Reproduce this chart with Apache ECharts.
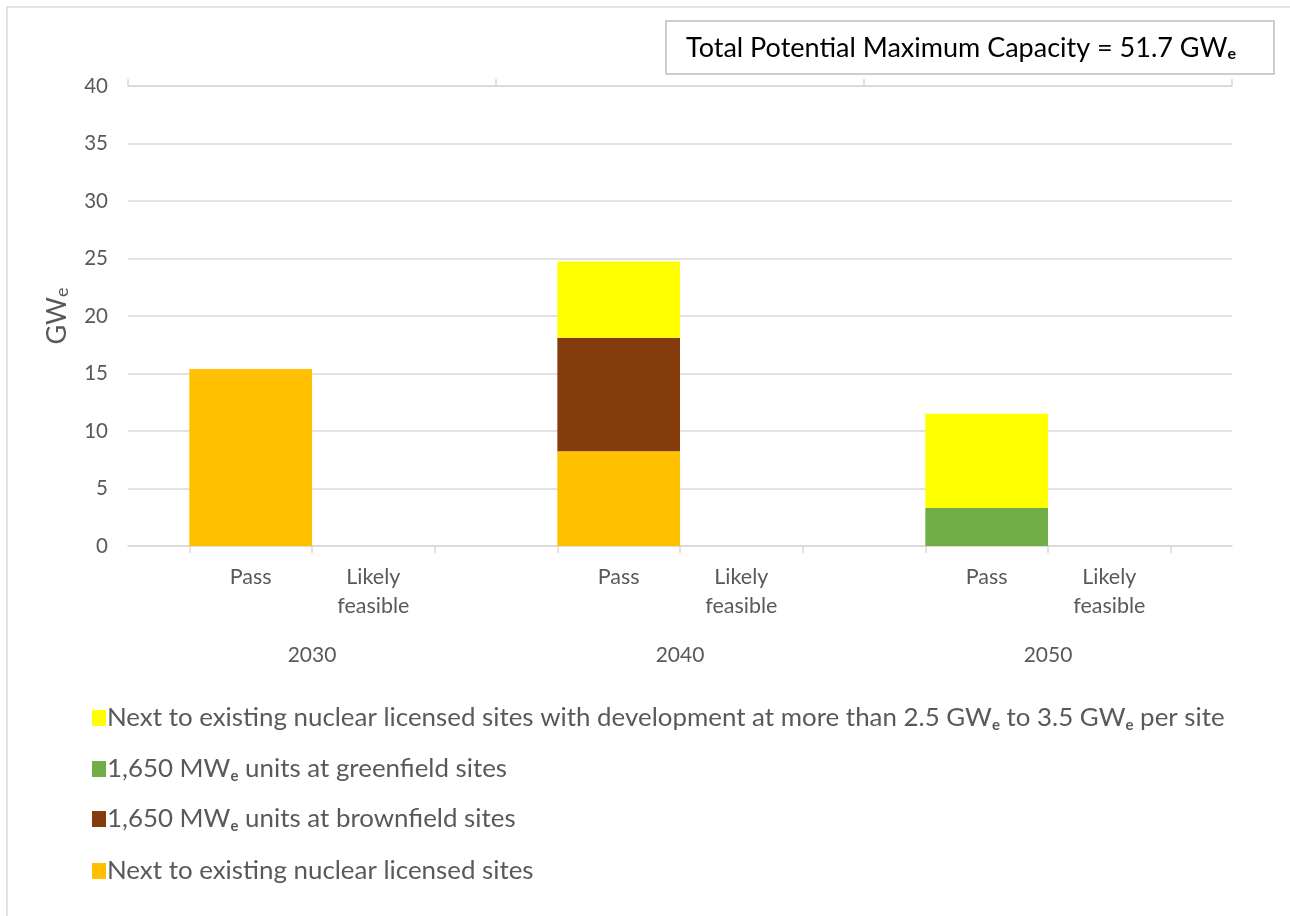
<!DOCTYPE html>
<html>
<head>
<meta charset="utf-8">
<script src="https://cdn.jsdelivr.net/npm/echarts@6/dist/echarts.min.js"></script>
<style>
html,body{margin:0;padding:0;background:#fff;}
#chart{width:1290px;height:916px;}
</style>
</head>
<body>
<div id="chart"></div>
<script>
// ---- data ----
var subCategories = ['', 'Pass', 'Likely\nfeasible', '', 'Pass', 'Likely\nfeasible', '', 'Pass', 'Likely\nfeasible', ''];
var yearSlots = ['', '2030', '', '', '2040', '', '', '2050', ''];
var nameOrange = 'Next to existing nuclear licensed sites';
var nameBrown = '1,650 MWe units at brownfield sites';
var nameGreen = '1,650 MWe units at greenfield sites';
var nameYellow = 'Next to existing nuclear licensed sites with development at more than 2.5 GWe to 3.5 GWe per site';
var orangeValues = [null, 15.4, null, null, 8.25, null, null, null, null, null];
var brownValues  = [null, null, null, null, 9.85, null, null, null, null, null];
var greenValues  = [null, null, null, null, null, null, null, 3.3, null, null];
var yellowValues = [null, null, null, null, 6.65, null, null, 8.2, null, null];
var yTicks = { min: 0, max: 40, interval: 5 };
var totalText = 'Total Potential Maximum Capacity = 51.7 GW{sub|e}';

var FONT = 'Lato';
var GRAY = '#595959';
var LINE = '#d9d9d9';

function subFmt(s) { return s.replace(/GWe/g, 'GW{sub|e}').replace(/MWe/g, 'MW{sub|e}'); }

var legendOrder = [nameYellow, nameGreen, nameBrown, nameOrange];
var legendTops = [717, 768, 818, 870];
var legends = legendOrder.map(function (n, i) {
  return {
    data: [n],
    left: 87,
    top: legendTops[i] - 19,
    orient: 'vertical',
    itemWidth: 14,
    itemHeight: 16,
    itemGap: 6,
    selectedMode: false,
    icon: 'rect',
    formatter: function (name) { return subFmt(name); },
    textStyle: {
      fontFamily: FONT, fontSize: 25.9, lineHeight: 30, color: GRAY, padding: [0, 0, 0, -4],
      rich: { sub: { fontFamily: FONT, fontSize: 15, lineHeight: 30, fontWeight: 'bold', color: GRAY, verticalAlign: 'bottom', padding: [6, 0, 0, 0] } }
    }
  };
});

function barSeries(name, data, color) {
  return {
    name: name, type: 'bar', stack: 'total', data: data, barWidth: '100%',
    xAxisIndex: 0, yAxisIndex: 0,
    itemStyle: { color: color },
    emphasis: { disabled: true }
  };
}

var option = {
  animation: false,
  backgroundColor: '#fff',
  textStyle: { fontFamily: FONT },
  grid: { left: 128, right: 58, top: 86, bottom: 370, containLabel: false },
  legend: legends,
  xAxis: [
    {
      type: 'category', data: subCategories, boundaryGap: false, position: 'bottom',
      axisLine: { show: true, lineStyle: { color: LINE, width: 1.5 } },
      axisTick: { show: false },
      axisLabel: { interval: 0, margin: 17, fontFamily: FONT, fontSize: 21.5, lineHeight: 29, color: GRAY },
      splitLine: { show: false }
    },
    {
      type: 'category', data: yearSlots, boundaryGap: true, position: 'bottom',
      axisLine: { show: false },
      axisTick: { show: true, alignWithLabel: true, interval: 0, length: 7, lineStyle: { color: LINE, width: 1.5 } },
      axisLabel: { interval: 0, margin: 95, fontFamily: FONT, fontSize: 21, lineHeight: 29, color: GRAY },
      splitLine: { show: false }
    },
    {
      type: 'category', data: yearSlots, boundaryGap: true, position: 'top',
      axisLine: { show: true, lineStyle: { color: LINE, width: 1.5 } },
      axisTick: { show: true, interval: 2, length: 7, lineStyle: { color: LINE, width: 1.5 } },
      axisLabel: { show: false },
      splitLine: { show: false }
    }
  ],
  yAxis: {
    type: 'value', min: yTicks.min, max: yTicks.max, interval: yTicks.interval,
    axisLine: { show: false }, axisTick: { show: false },
    splitLine: { lineStyle: { color: LINE, width: 1.5 } },
    axisLabel: { margin: 20, fontFamily: FONT, fontSize: 20.5, color: GRAY },
    name: 'GW{sub|e}', nameLocation: 'middle', nameGap: 57, nameRotate: 90,
    nameTextStyle: {
      fontFamily: FONT, fontSize: 27, color: GRAY,
      rich: { sub: { fontFamily: FONT, fontSize: 18, color: GRAY, verticalAlign: 'bottom', padding: [10, 0, 0, 0] } }
    }
  },
  series: [
    barSeries(nameOrange, orangeValues, '#FFC000'),
    barSeries(nameGreen, greenValues, '#70AD47'),
    barSeries(nameBrown, brownValues, '#843C0C'),
    barSeries(nameYellow, yellowValues, '#FFFF00')
  ],
  graphic: [
    { type: 'rect', z: -10, silent: true, shape: { x: 7, y: 7, width: 1300, height: 930 },
      style: { fill: 'none', stroke: LINE, lineWidth: 1.5 } },
    { type: 'rect', z: 10, silent: true, shape: { x: 666, y: 21, width: 608, height: 53 },
      style: { fill: '#fff', stroke: '#bfbfbf', lineWidth: 1.5 } },
    { type: 'text', z: 11, silent: true, x: 686, y: 48,
      style: { text: totalText, fontFamily: FONT, fontSize: 27, fill: '#000', verticalAlign: 'middle', align: 'left',
        rich: { sub: { fontFamily: FONT, fontSize: 16, fontWeight: 'bold', fill: '#000', verticalAlign: 'bottom', padding: [10, 0, 0, 0] } } } }
  ]
};

var chart = echarts.init(document.getElementById('chart'), null, { renderer: 'canvas' });
chart.setOption(option);
</script>
</body>
</html>
